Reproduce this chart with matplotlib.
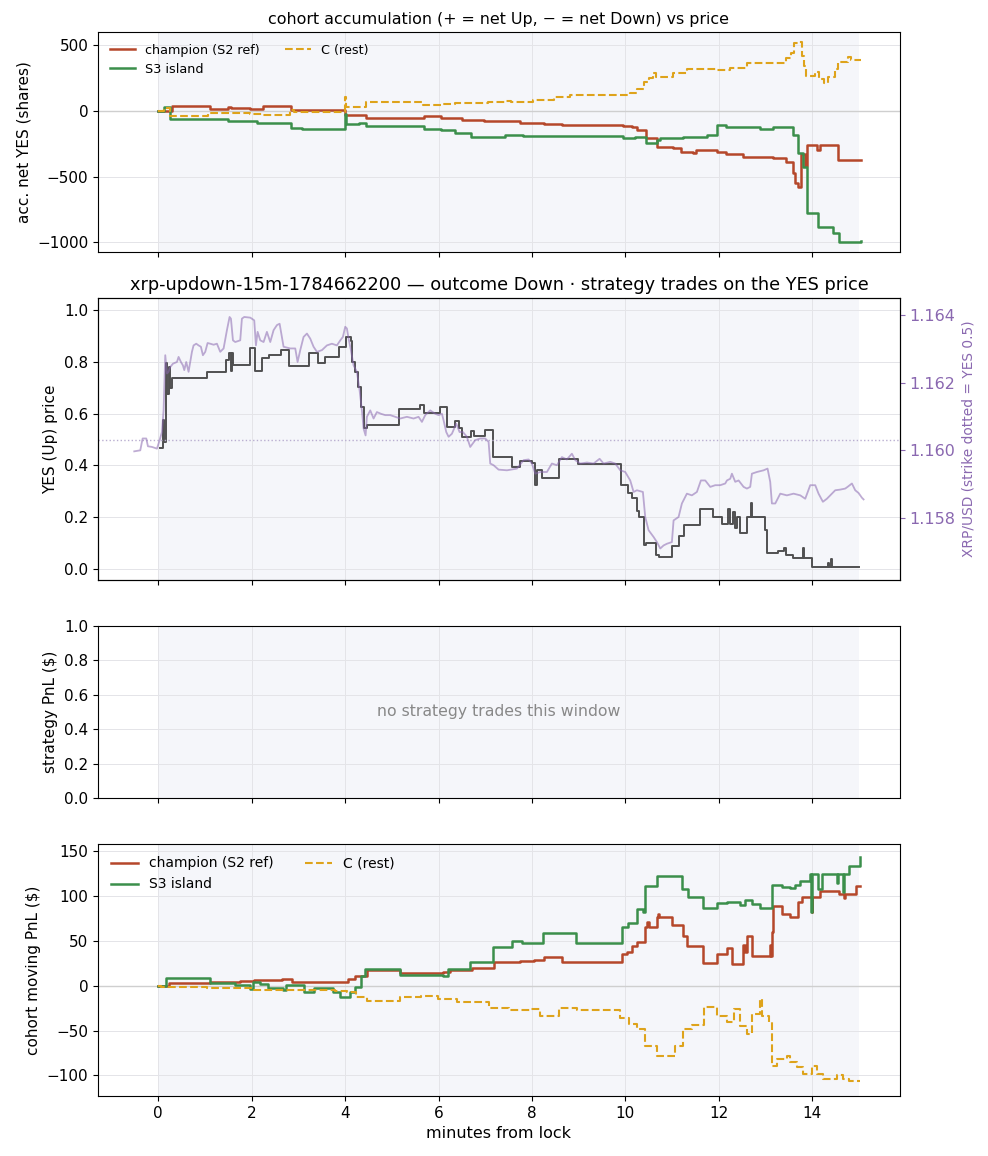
import matplotlib
matplotlib.use("Agg")
from matplotlib import pyplot as plt

# ---- panel 1: cohort accumulation (acc. net YES shares) ----
champ_acc_t = [0, 0.29, 1.11, 1.5, 1.55, 1.97, 2.25, 2.84, 4.0, 4.45, 5.7, 6.06, 6.5, 6.97,
               7.75, 8.25, 8.65, 9.96, 10.15, 10.25, 10.45, 10.68, 11.03, 11.2, 11.45, 11.52,
               11.96, 12.16, 12.52, 13.16, 13.44, 13.59, 13.64, 13.7, 13.76, 13.84, 13.9,
               14.06, 14.1, 14.16, 14.55, 15.05]
champ_acc = [0, 38, 18, 32, 25, 18, 38, 8, -30, -56, -41, -56, -68, -78,
             -89, -99, -109, -114, -124, -144, -208, -272, -285, -310, -323, -297,
             -310, -327, -348, -361, -386, -470, -551, -576, -330, -420, -259,
             -259, -300, -259, -373, -373]

s3_acc_t = [0, 0.12, 0.25, 1.5, 1.6, 2.11, 2.84, 3.08, 4.0, 4.03, 4.3, 4.45, 5.7, 6.06, 6.35,
            6.7, 7.43, 7.57, 7.8, 9.96, 10.2, 10.45, 10.68, 10.75, 11.24, 11.74, 11.96,
            12.16, 12.88, 13.16, 13.44, 13.59, 13.7, 13.8, 13.88, 13.9, 14.12, 14.44, 14.57, 15.05]
s3_acc = [0, 30, -63, -73, -73, -93, -127, -137, -23, -100, -93, -112, -137, -145, -170,
          -195, -183, -186, -193, -206, -200, -246, -221, -208, -200, -180, -104,
          -124, -137, -124, -118, -183, -323, -424, -614, -779, -885, -931, -995, -990]

crest_acc_t = [0, 0.12, 0.25, 1.07, 1.53, 1.97, 2.25, 2.82, 2.9, 4.0, 4.02, 4.45, 5.67, 6.06,
               6.35, 7.06, 7.43, 7.55, 8.03, 8.47, 8.82, 10.1, 10.24, 10.4, 10.5, 10.6, 10.65,
               11.03, 11.31, 11.96, 12.25, 12.6, 13.23, 13.44, 13.55, 13.62, 13.72, 13.78,
               13.83, 13.87, 14.06, 14.14, 14.25, 14.34, 14.48, 14.55, 14.77, 14.84, 15.05]
crest_acc = [0, 20, -38, -13, -18, -23, -30, 8, -5, 105, 33, 66, 46, 52,
             58, 71, 76, 71, 86, 109, 119, 134, 170, 223, 254, 290, 262,
             292, 320, 312, 325, 363, 368, 401, 440, 515, 528, 416,
             340, 266, 300, 245, 211, 261, 320, 375, 414, 385, 385]

# ---- panel 2: YES price (steps) and XRP/USD ----
yes_t = [0.03, 0.10, 0.13, 0.17, 0.19, 0.22, 0.25, 0.29, 1.04, 1.44, 1.51, 1.56, 1.58, 1.61,
         1.97, 2.08, 2.23, 2.37, 2.62, 2.80, 3.23, 3.43, 3.57, 3.87, 4.02, 4.12, 4.15, 4.22,
         4.28, 4.33, 4.40, 4.47, 5.16, 5.60, 5.70, 6.03, 6.19, 6.35, 6.43, 6.50, 6.70, 6.77,
         7.00, 7.16, 7.57, 7.75, 8.00, 8.07, 8.10, 8.22, 8.57, 8.98, 9.91, 10.05, 10.14,
         10.25, 10.30, 10.40, 10.45, 10.66, 10.72, 11.00, 11.14, 11.25, 11.60, 11.87, 12.08,
         12.20, 12.25, 12.30, 12.35, 12.40, 12.45, 12.60, 12.70, 12.72, 12.98, 13.03, 13.26,
         13.40, 13.45, 13.60, 13.80, 13.83, 14.00, 14.33, 14.36, 14.40, 14.43, 15.00]
yes_px = [0.466, 0.575, 0.49, 0.794, 0.677, 0.781, 0.70, 0.736, 0.762, 0.807, 0.835, 0.766,
          0.835, 0.788, 0.855, 0.766, 0.813, 0.826, 0.846, 0.785, 0.835, 0.797, 0.817, 0.858,
          0.897, 0.88, 0.80, 0.762, 0.704, 0.627, 0.543, 0.555, 0.617, 0.633, 0.604, 0.624,
          0.547, 0.573, 0.546, 0.509, 0.533, 0.514, 0.535, 0.434, 0.395, 0.417, 0.411, 0.325,
          0.382, 0.353, 0.425, 0.405, 0.325, 0.292, 0.273, 0.225, 0.202, 0.093, 0.102, 0.054,
          0.048, 0.089, 0.127, 0.169, 0.232, 0.202, 0.174, 0.231, 0.174, 0.220, 0.160, 0.200,
          0.138, 0.202, 0.254, 0.202, 0.150, 0.061, 0.071, 0.080, 0.054, 0.041, 0.080, 0.041,
          0.009, 0.022, 0.009, 0.039, 0.009, 0.009]

xrp_t = [-0.514, -0.385, -0.335, -0.257, -0.221, -0.135, -0.028, 0.029, 0.079, 0.114, 0.150,
         0.186, 0.221, 0.257, 0.314, 0.400, 0.435, 0.485, 0.528, 0.557, 0.599, 0.649, 0.685,
         0.721, 0.756, 0.813, 0.863, 0.913, 0.956, 1.006, 1.056, 1.113, 1.185, 1.256, 1.327,
         1.399, 1.470, 1.527, 1.556, 1.599, 1.648, 1.755, 1.791, 1.841, 1.970, 2.055, 2.091,
         2.127, 2.184, 2.255, 2.326, 2.398, 2.469, 2.541, 2.598, 2.648, 2.683, 2.826, 2.933,
         2.983, 3.040, 3.111, 3.183, 3.254, 3.325, 3.397, 3.504, 3.611, 3.718, 3.825, 3.897,
         3.953, 4.003, 4.039, 4.075, 4.125, 4.182, 4.253, 4.310, 4.360, 4.396, 4.439, 4.467,
         4.539, 4.610, 4.681, 4.767, 4.860, 4.967, 5.074, 5.181, 5.324, 5.466, 5.573, 5.645,
         5.716, 5.823, 5.930, 6.001, 6.073, 6.108, 6.166, 6.216, 6.287, 6.380, 6.451, 6.523,
         6.608, 6.679, 6.786, 6.893, 7.000, 7.072, 7.108, 7.179, 7.286, 7.465, 7.679, 7.822,
         7.929, 8.000, 8.071, 8.178, 8.321, 8.428, 8.535, 8.642, 8.749, 8.856, 8.928, 9.035,
         9.178, 9.320, 9.449, 9.534, 9.677, 9.784, 9.891, 9.998, 10.105, 10.177, 10.248,
         10.376, 10.426, 10.498, 10.605, 10.676, 10.748, 10.819, 10.890, 10.997, 11.033,
         11.140, 11.211, 11.318, 11.425, 11.532, 11.618, 11.711, 11.818, 11.925, 12.032,
         12.139, 12.175, 12.246, 12.282, 12.353, 12.425, 12.532, 12.603, 12.674, 12.710,
         12.817, 12.960, 13.045, 13.102, 13.138, 13.210, 13.281, 13.317, 13.459, 13.602,
         13.745, 13.852, 13.959, 14.066, 14.137, 14.230, 14.316, 14.387, 14.494, 14.601,
         14.708, 14.758, 14.851, 14.922, 14.993, 15.065, 15.101]
xrp_px = [1.15997, 1.16000, 1.16035, 1.16035, 1.16012, 1.16010, 1.16005, 1.16030, 1.16054,
          1.16118, 1.16281, 1.16227, 1.16232, 1.16246, 1.16256, 1.16261, 1.16276, 1.16261,
          1.16251, 1.16237, 1.16261, 1.16232, 1.16261, 1.16291, 1.16310, 1.16315, 1.16310,
          1.16306, 1.16281, 1.16291, 1.16317, 1.16315, 1.16312, 1.16315, 1.16291, 1.16301,
          1.16355, 1.16394, 1.16389, 1.16325, 1.16320, 1.16325, 1.16389, 1.16394, 1.16392,
          1.16384, 1.16310, 1.16350, 1.16325, 1.16320, 1.16350, 1.16320, 1.16355, 1.16370,
          1.16374, 1.16335, 1.16306, 1.16301, 1.16301, 1.16261, 1.16296, 1.16335, 1.16345,
          1.16330, 1.16306, 1.16291, 1.16296, 1.16310, 1.16315, 1.16310, 1.16325, 1.16335,
          1.16365, 1.16360, 1.16330, 1.16296, 1.16251, 1.16232, 1.16178, 1.16118, 1.16064,
          1.16044, 1.16099, 1.16118, 1.16094, 1.16113, 1.16108, 1.16104, 1.16104, 1.16099,
          1.16094, 1.16099, 1.16094, 1.16099, 1.16084, 1.16104, 1.16118, 1.16108, 1.16104,
          1.16108, 1.16089, 1.16054, 1.16040, 1.16049, 1.16079, 1.16054, 1.16054, 1.16040,
          1.16010, 1.16030, 1.16035, 1.16035, 1.16025, 1.15961, 1.15956, 1.15943, 1.15941,
          1.15946, 1.15971, 1.15973, 1.15961, 1.15931, 1.15936, 1.15936, 1.15961, 1.15956,
          1.15980, 1.15973, 1.15990, 1.15971, 1.15961, 1.15964, 1.15961, 1.15975, 1.15961,
          1.15966, 1.15961, 1.15941, 1.15936, 1.15911, 1.15877, 1.15882, 1.15877, 1.15803,
          1.15764, 1.15744, 1.15729, 1.15710, 1.15719, 1.15724, 1.15729, 1.15793, 1.15803,
          1.15843, 1.15872, 1.15867, 1.15877, 1.15911, 1.15911, 1.15892, 1.15897, 1.15897,
          1.15902, 1.15911, 1.15916, 1.15931, 1.15907, 1.15911, 1.15892, 1.15887, 1.15892,
          1.15931, 1.15936, 1.15941, 1.15946, 1.15907, 1.15843, 1.15843, 1.15862, 1.15872,
          1.15867, 1.15872, 1.15867, 1.15857, 1.15897, 1.15897, 1.15872, 1.15848, 1.15857,
          1.15867, 1.15882, 1.15884, 1.15887, 1.15892, 1.15902, 1.15882, 1.15874, 1.15860,
          1.15855]

# ---- panel 4: cohort moving PnL ($) ----
champ_pnl_t = [0, 0.22, 1.11, 1.5, 1.76, 2.04, 2.65, 2.86, 4.07, 4.22, 4.33, 4.47, 5.18, 6.10,
               6.25, 6.72, 7.18, 7.75, 8.04, 8.25, 8.65, 9.93, 10.03, 10.14, 10.25, 10.43,
               10.46, 10.50, 10.67, 10.70, 10.72, 11.00, 11.23, 11.32, 11.66, 11.96, 12.17,
               12.28, 12.52, 12.56, 12.60, 12.72, 13.09, 13.12, 13.14, 13.17, 13.35, 13.53,
               13.69, 13.78, 13.99, 14.0, 14.17, 14.57, 14.68, 14.70, 14.94, 15.03]
champ_pnl = [0, 2.6, 3.7, 4.5, 5.2, 6.0, 7.0, 4.5, 7.4, 10.4, 11.0, 17.9, 14.1, 15.0,
             17.9, 19.7, 26.8, 27.8, 29.0, 32.4, 26.8, 35.3, 38.0, 43.9, 48.4, 65.0,
             71.0, 65.0, 76.3, 80.0, 76.3, 68.0, 55.8, 44.6, 25.3, 35.3, 41.7,
             24.2, 45.0, 38.0, 55.0, 33.5, 45.0, 33.5, 60.0, 89.3, 80.0, 77.0,
             93.0, 98.6, 82.0, 98.6, 106.0, 102.0, 98.0, 102.0, 111.6, 111.6]

s3_pnl_t = [0, 0.17, 1.11, 1.65, 1.96, 2.03, 2.17, 2.35, 2.66, 2.73, 3.11, 3.33, 3.75, 3.90,
            4.10, 4.22, 4.33, 4.43, 5.18, 6.10, 6.21, 6.68, 7.17, 7.57, 7.79, 8.24, 8.95,
            9.93, 10.06, 10.25, 10.38, 10.43, 10.68, 11.21, 11.35, 11.67, 11.96, 12.17,
            12.46, 12.57, 12.71, 12.89, 13.14, 13.35, 13.53, 13.64, 13.74, 13.96, 13.98,
            14.0, 14.13, 14.2, 14.53, 14.55, 14.67, 14.69, 14.78, 15.03]
s3_pnl = [0, 8.6, 3.0, 0.7, -3.7, 3.7, 1.9, -3.0, -4.5, 0.7, -6.7, -3.0, -7.4, -13.0,
          -7.0, -1.9, 11.0, 18.6, 11.9, 10.4, 18.6, 26.0, 42.8, 50.2, 47.2, 58.4, 47.6,
          65.0, 70.0, 85.0, 82.0, 111.6, 122.8, 107.9, 98.6, 86.7, 92.3, 93.8,
          90.0, 95.0, 91.5, 86.7, 112.7, 110.5, 109.0, 112.7, 117.0, 124.0, 82.0,
          124.0, 108.0, 124.0, 115.0, 124.0, 104.0, 124.0, 134.0, 144.0]

crest_pnl_t = [0, 0.05, 1.04, 2.04, 3.78, 4.05, 4.24, 4.47, 5.18, 5.63, 5.99, 6.40, 7.09, 7.50,
               7.97, 8.18, 8.57, 8.96, 9.89, 10.07, 10.25, 10.43, 10.68, 11.07, 11.23, 11.43,
               11.68, 11.96, 12.17, 12.32, 12.46, 12.60, 12.72, 12.89, 12.93, 13.07, 13.14,
               13.25, 13.46, 13.53, 13.67, 13.81, 13.99, 14.10, 14.24, 14.53, 14.67, 14.78, 15.03]
crest_pnl = [0, -1.9, -3.0, -4.5, -5.6, -7.4, -13.0, -17.5, -13.0, -11.9, -14.9, -18.6, -25.3,
             -27.0, -26.0, -33.5, -25.3, -27.0, -36.5, -42.8, -48.4, -67.0, -78.0, -67.0,
             -48.4, -43.5, -24.2, -33.5, -40.9, -26.0, -44.6, -54.0, -31.6, -14.9, -33.5,
             -40.9, -89.3, -81.8, -78.0, -85.0, -91.0, -98.6, -90.0, -98.6, -104.0, -100.0,
             -104.0, -106.0, -106.0]

C_CHAMP = "#b5472a"
C_S3 = "#3b8f4b"
C_REST = "#dea31b"
C_XRP = "#8a68b0"
SPAN = "#f5f6fa"

fig = plt.figure(figsize=(9.88, 11.56), dpi=100)
ax1 = fig.add_axes([0.0992, 0.782, 0.8117, 0.1903])
ax2 = fig.add_axes([0.0992, 0.4983, 0.8117, 0.2439], sharex=ax1)
ax3 = fig.add_axes([0.0992, 0.3097, 0.8117, 0.1488], sharex=ax1)
ax4 = fig.add_axes([0.0992, 0.0519, 0.8117, 0.218], sharex=ax1)

for ax in (ax1, ax2, ax3, ax4):
    ax.axvspan(0, 15, color=SPAN, zorder=0, lw=0)
    ax.set_axisbelow(True)
    ax.grid(True, color="#e4e4e8", lw=0.7)

# panel 1
ax1.axhline(0, color="#cfcfcf", lw=1.0, zorder=1)
ax1.step(champ_acc_t, champ_acc, where="post", color=C_CHAMP, lw=1.8, label="champion (S2 ref)")
ax1.step(s3_acc_t, s3_acc, where="post", color=C_S3, lw=1.8, label="S3 island")
ax1.step(crest_acc_t, crest_acc, where="post", color=C_REST, lw=1.5, ls="--", label="C (rest)")
ax1.set_ylim(-1073, 601)
ax1.set_yticks([-1000, -500, 0, 500])
ax1.set_ylabel("acc. net YES (shares)", fontsize=11)
ax1.set_title("cohort accumulation (+ = net Up, \u2212 = net Down) vs price", fontsize=11.4)
ax1.legend(loc="upper left", ncol=2, frameon=False, fontsize=9.2, columnspacing=2.0)

# panel 2
ax2.step(yes_t, yes_px, where="post", color="#333333", lw=1.4, alpha=0.85)
ax2.axhline(0.5, color="#b9aed0", lw=1.0, ls=":")
ax2.set_ylim(-0.042, 1.046)
ax2.set_yticks([0.0, 0.2, 0.4, 0.6, 0.8, 1.0])
ax2.set_ylabel("YES (Up) price", fontsize=11)
ax2.set_title("xrp-updown-15m-1784662200 \u2014 outcome Down \u00b7 strategy trades on the YES price",
              fontsize=12.8)
tw = ax2.twinx()
tw.plot(xrp_t, xrp_px, color=C_XRP, lw=1.3, alpha=0.55)
tw.set_ylim(1.15617, 1.1645)
tw.set_yticks([1.158, 1.160, 1.162, 1.164])
tw.tick_params(axis="y", colors=C_XRP, labelsize=11.5)
tw.set_ylabel("XRP/USD (strike dotted = YES 0.5)", color=C_XRP, fontsize=9.9)

# panel 3
ax3.set_ylim(0, 1)
ax3.set_ylabel("strategy PnL ($)", fontsize=11)
ax3.text(0.5, 0.5, "no strategy trades this window", transform=ax3.transAxes,
         ha="center", va="center", color="#888888", fontsize=11.3)

# panel 4
ax4.axhline(0, color="#cfcfcf", lw=1.0, zorder=1)
ax4.step(champ_pnl_t, champ_pnl, where="post", color=C_CHAMP, lw=1.8, label="champion (S2 ref)")
ax4.step(s3_pnl_t, s3_pnl, where="post", color=C_S3, lw=1.8, label="S3 island")
ax4.step(crest_pnl_t, crest_pnl, where="post", color=C_REST, lw=1.5, ls="--", label="C (rest)")
ax4.set_ylim(-123, 158)
ax4.set_yticks([-100, -50, 0, 50, 100, 150])
ax4.set_ylabel("cohort moving PnL ($)", fontsize=11)
ax4.set_xlabel("minutes from lock", fontsize=11.5)
ax4.legend(loc="upper left", ncol=2, frameon=False, fontsize=10, columnspacing=2.2)

ax1.set_xlim(-1.29, 15.88)
for ax in (ax1, ax2, ax3):
    ax.tick_params(labelbottom=False)
for ax in (ax1, ax2, ax3, ax4):
    ax.tick_params(labelsize=11)

fig.savefig("out.png", dpi=100)
